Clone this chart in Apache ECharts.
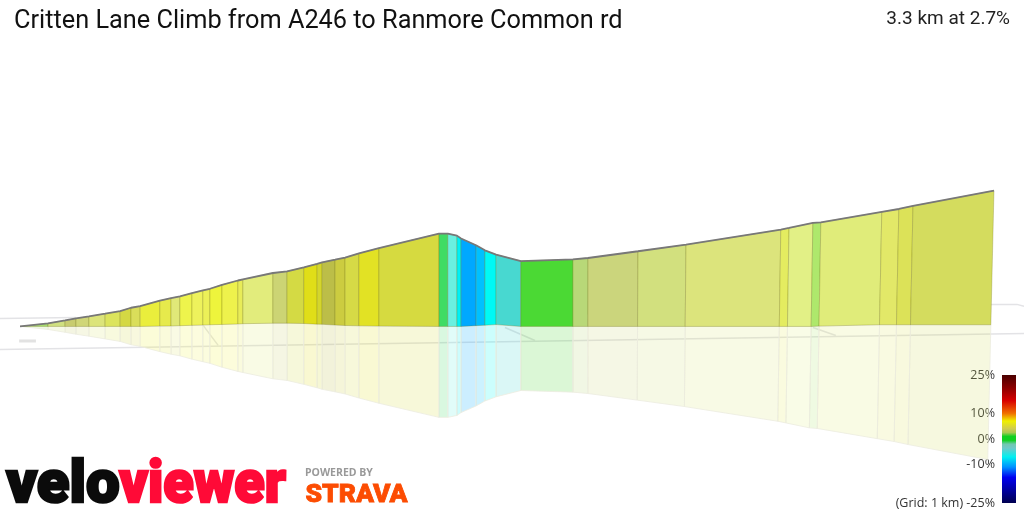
<!DOCTYPE html>
<html>
<head>
<meta charset="utf-8">
<title>Critten Lane Climb</title>
<script src="https://cdn.jsdelivr.net/npm/echarts@6/dist/echarts.min.js"></script>
<style>
html, body { margin: 0; padding: 0; background: #fff; }
#chart { width: 1024px; height: 512px; }
</style>
</head>
<body>
<div id="chart"></div>
<script>
// distance along the climb (m) at each segment boundary
var distances = [0, 95, 153, 190, 234, 289, 340, 377, 408, 475, 513, 543, 584, 621, 645, 686, 740, 757, 859, 907, 964, 1009, 1026, 1070, 1104, 1151, 1219, 1423, 1453, 1484, 1498, 1549, 1579, 1617, 1701, 1878, 1929, 2099, 2262, 2584, 2612, 2693, 2720, 2927, 2985, 3033, 3308];
// elevation gained (m) at each boundary
var elevations = [0, 2.0, 3.9, 5.2, 6.5, 8.3, 10.0, 12.2, 13.3, 16.8, 18.5, 19.6, 21.8, 23.5, 24.6, 27.2, 30.0, 30.7, 34.9, 36.0, 38.6, 40.9, 41.9, 43.6, 45.0, 47.7, 51.2, 60.6, 60.6, 59.3, 57.4, 53.0, 49.7, 46.9, 42.7, 43.8, 44.7, 49.1, 53.4, 63.2, 64.3, 67.6, 68.0, 74.8, 76.7, 78.7, 88.7];
// height of the ground line under each boundary (m)
var groundLevels = [0, 0, 0, 0, 0, 0, 0, 0, 0, 0.2, 0.3, 0.5, 0.7, 0.9, 1.1, 1.3, 1.6, 1.8, 2.1, 2.1, 1.9, 1.5, 1.4, 0.9, 0.6, 0.4, 0.2, 0, 0, 0, 0, 0.5, 0.8, 1.2, 0, 0, 0, 0, 0, 0, 0, 0, 0.2, 1.1, 1.1, 1.1, 1.1];
var segmentColors = ['#a8e070', '#d0e080', '#c8cc70', '#d0d678', '#dce47a', '#dce45c', '#d4d844', '#dade5a', '#eaee3c', '#e6ea4c', '#e0e878', '#eef44c', '#eef25c', '#ecf058', '#eef43c', '#eef24c', '#e8ec58', '#e2ec7c', '#ccd474', '#d4da44', '#e0de18', '#d4d62c', '#bcbe48', '#cccc40', '#d6da46', '#e2e224', '#d6da40', '#3fdc64', '#6af0e0', '#00f0f5', '#00a8ff', '#00c0ff', '#00f8f5', '#48d8d0', '#4bd934', '#b8d878', '#cbd57c', '#d2e07e', '#dce47c', '#e4ec60', '#e2f086', '#aee86c', '#e0ec7a', '#e2e868', '#dce258', '#d4dc5e'];

// faint map grid on the floor
var floorLines = [
    [[-68, 5.2], [190, 5.9]],
    [[-68, -15], [1640, -10], [3410, -4.6]],
    [[622, 0.7], [673, -12.4]],
    [[1647, -0.7], [1749, -9.2]],
    [[2693, -0.7], [2771, -5.9]],
    [[3298, 14.4], [3386, 14.4], [3410, 13.1]]
];
var floorMark = [[-3, -9.5], [54, -9.5]];

var gradeTicks = [25, 10, 0, -10, -25];
var gradeStops = [
    [25, '#4a0000'], [20, '#8b0000'], [15, '#d80000'], [10, '#f07000'], [7, '#f0f000'],
    [4, '#d0cc50'], [2.5, '#a8c850'], [1, '#10d020'], [-0.5, '#10d020'], [-2, '#70c8b0'],
    [-3.5, '#70c8c8'], [-7, '#00f0f0'], [-11, '#0090ff'], [-15, '#0000f0'], [-25, '#000050']
];

var titleText = 'Critten Lane Climb from A246 to Ranmore Common rd';
var summaryText = '3.3 km at 2.7%';

var segments = [];
for (var i = 0; i < distances.length - 1; i++) {
    segments.push([distances[i], elevations[i], groundLevels[i], distances[i + 1], elevations[i + 1], groundLevels[i + 1], i]);
}

// the far side of the profile leans a little with the camera
var lean = function (dist) {
    return dist > 1900 ? (dist - 1900) * 0.0075 : 0;
};

var renderProfile = function (params, api) {
    var d0 = api.value(0), d1 = api.value(3);
    var points = [
        api.coord([d0 - lean(d0), api.value(2)]),
        api.coord([d0, api.value(1)]),
        api.coord([d1, api.value(4)]),
        api.coord([d1 - lean(d1), api.value(5)])
    ];
    return {
        type: 'polygon',
        shape: { points: points },
        style: { fill: segmentColors[api.value(6)], stroke: 'rgba(110,110,20,0.28)', lineWidth: 1 }
    };
};

var renderReflection = function (params, api) {
    var d0 = api.value(0), d1 = api.value(3);
    var points = [
        api.coord([d0 - lean(d0), api.value(2)]),
        api.coord([d0 - lean(d0) * 2, -api.value(1) * 0.98]),
        api.coord([d1 - lean(d1) * 2, -api.value(4) * 0.98]),
        api.coord([d1 - lean(d1), api.value(5)])
    ];
    return {
        type: 'polygon',
        shape: { points: points },
        style: { fill: segmentColors[api.value(6)], fillOpacity: 0.2, stroke: '#ecece0', lineWidth: 0.8 }
    };
};

var renderGradeBar = function (params, api) {
    var top = api.coord([0, 25]), bottom = api.coord([1, -25]);
    var colorStops = gradeStops.map(function (s) {
        return { offset: (25 - s[0]) / 50, color: s[1] };
    });
    return {
        type: 'rect',
        shape: { x: top[0], y: top[1], width: bottom[0] - top[0], height: bottom[1] - top[1] },
        style: { fill: new echarts.graphic.LinearGradient(0, 0, 0, 1, colorStops) }
    };
};

var series = [];
floorLines.forEach(function (line) {
    series.push({
        type: 'line', data: line, symbol: 'none', silent: true, z: 1,
        lineStyle: { color: '#e3e3e6', width: 1.5 }
    });
});
series.push({
    type: 'line', data: floorMark, symbol: 'none', silent: true, z: 1,
    lineStyle: { color: '#e2e2e2', width: 3 }
});
series.push({
    type: 'custom', data: segments, renderItem: renderReflection, silent: true, z: 2
});
series.push({
    type: 'custom', data: segments, renderItem: renderProfile, silent: true, z: 3
});
series.push({
    type: 'line', symbol: 'none', silent: true, z: 4,
    data: distances.map(function (d, i) { return [d, elevations[i]]; }),
    lineStyle: { color: '#787878', width: 1.8 }
});
series.push({
    type: 'custom', xAxisIndex: 1, yAxisIndex: 1, data: [[0]], renderItem: renderGradeBar, silent: true
});

var option = {
    animation: false,
    backgroundColor: '#fff',
    title: [
        {
            text: titleText, left: 9, top: 4,
            textStyle: { color: '#111', fontSize: 25.3, fontWeight: 'normal', fontFamily: 'Roboto' }
        },
        {
            text: summaryText, right: 9, top: 5,
            textStyle: { color: '#222', fontSize: 19, fontWeight: 'normal', fontFamily: 'Roboto' }
        }
    ],
    grid: [
        { left: 0, right: 0, top: 0, bottom: 0 },
        { left: 1002, width: 14, top: 375, height: 128 }
    ],
    xAxis: [
        { type: 'value', min: -68, max: 3410, show: false },
        { type: 'value', gridIndex: 1, min: 0, max: 1, show: false }
    ],
    yAxis: [
        { type: 'value', min: -121.2, max: 213.2, show: false },
        {
            type: 'value', gridIndex: 1, min: -25, max: 25,
            axisLine: { show: false }, axisTick: { show: false }, splitLine: { show: false },
            axisLabel: {
                customValues: gradeTicks, margin: 7, color: '#333', fontSize: 12.5, fontFamily: 'Open Sans',
                formatter: function (v) {
                    return v === -25 ? '(Grid: 1 km) -25%' : v + '%';
                }
            }
        }
    ],
    graphic: [
        {
            type: 'text', left: 5, top: 456, scaleX: 1,
            style: { text: 'velo', fill: '#0b0b0b', stroke: '#0b0b0b', lineWidth: 2.5, font: '900 60px Roboto' }
        },
        {
            type: 'text', left: 118, top: 456, scaleX: 0.93,
            style: { text: 'viewer', fill: '#ff0a37', stroke: '#ff0a37', lineWidth: 2.5, font: '900 60px Roboto' }
        },
        {
            type: 'text', left: 305, top: 468,
            style: { text: 'POWERED BY', fill: '#999', font: '700 10.5px "Open Sans"' }
        },
        {
            type: 'text', left: 305, top: 481,
            style: { text: 'STRAVA', fill: '#fc4c02', stroke: '#fc4c02', lineWidth: 0.8, font: '900 26.5px Roboto' }
        }
    ],
    series: series
};

var myChart = echarts.init(document.getElementById('chart'));
myChart.setOption(option);
</script>
</body>
</html>
